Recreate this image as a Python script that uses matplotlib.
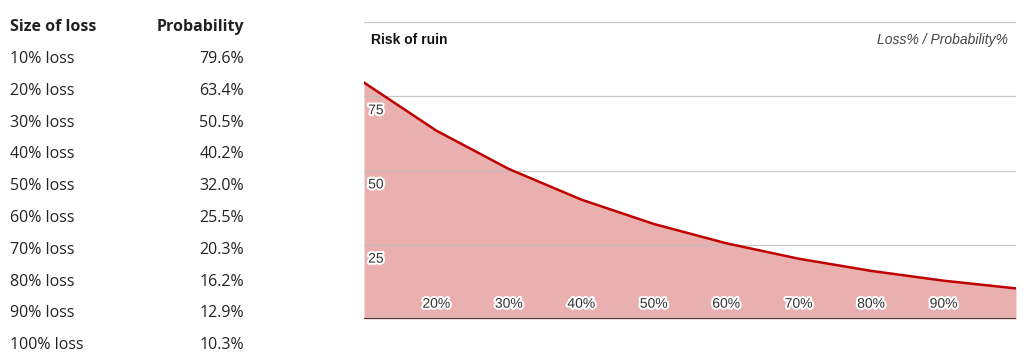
import matplotlib
matplotlib.use('Agg')
import matplotlib.pyplot as plt
import matplotlib.patheffects as pe

loss_pct = [10, 20, 30, 40, 50, 60, 70, 80, 90, 100]
probability = [79.6, 63.4, 50.5, 40.2, 32.0, 25.5, 20.3, 16.2, 12.9, 10.3]
x_tick_labels = ['20%', '30%', '40%', '50%', '60%', '70%', '80%', '90%']
y_ticks = [25, 50, 75]

W, H = 1024, 363
fig = plt.figure(figsize=(W / 100, H / 100), dpi=100)

# table on the left
table_font = 'Open Sans'
text_col = '#222222'
fig.text(10 / W, 1 - 27 / H, 'Size of loss', fontsize=11.5, fontweight='bold',
         family=table_font, color=text_col, va='center', ha='left')
fig.text(244 / W, 1 - 27 / H, 'Probability', fontsize=11.5, fontweight='bold',
         family=table_font, color=text_col, va='center', ha='right')
row_y0, row_step = 59, 31.8
for i, (l, p) in enumerate(zip(loss_pct, probability)):
    yy = 1 - (row_y0 + i * row_step) / H
    fig.text(10 / W, yy, f'{l}% loss', fontsize=11.5, family=table_font,
             color=text_col, va='center', ha='left')
    fig.text(244 / W, yy, f'{p:.1f}%', fontsize=11.5, family=table_font,
             color=text_col, va='center', ha='right')

# area chart
left, right, top, bottom = 364, 1016, 22, 319
ax = fig.add_axes([left / W, 1 - bottom / H, (right - left) / W, (bottom - top) / H])
ax.set_xlim(10, 100)
ax.set_ylim(0, 100)
ax.fill_between(loss_pct, probability, 0, color='#e8a8a8', alpha=0.9, lw=0, zorder=1)
ax.plot(loss_pct, probability, color='#c00000', lw=1.8, zorder=3)

for yv in y_ticks + [100]:
    ax.axhline(yv, color='#bbbbbb', lw=0.9, zorder=2, alpha=0.8)
ax.axhline(0, color='#444444', lw=1.5, zorder=4)

for s in ax.spines.values():
    s.set_visible(False)
ax.set_xticks([])
ax.set_yticks([])
ax.patch.set_alpha(0)

halo = [pe.withStroke(linewidth=3, foreground='white')]
for yv in y_ticks:
    ax.annotate(str(yv), (10, yv), xytext=(3, -10), textcoords='offset points',
                fontsize=10, family='Liberation Sans', color='#333333',
                ha='left', va='center', path_effects=halo, zorder=5)
for lbl, xv in zip(x_tick_labels, loss_pct[1:-1]):
    ax.annotate(lbl, (xv, 0), xytext=(0, 11), textcoords='offset points',
                fontsize=10, family='Liberation Sans', color='#333333',
                ha='center', va='center', path_effects=halo, zorder=5)

ax.text(371 / W, 1 - 40 / H, 'Risk of ruin', transform=fig.transFigure,
        fontsize=10, fontweight='bold', family='Liberation Sans', color='#111111',
        ha='left', va='center')
ax.text(1008 / W, 1 - 40 / H, 'Loss% / Probability%', transform=fig.transFigure,
        fontsize=10, style='italic', family='Liberation Sans', color='#444444',
        ha='right', va='center')

fig.savefig('out.png', dpi=100)
